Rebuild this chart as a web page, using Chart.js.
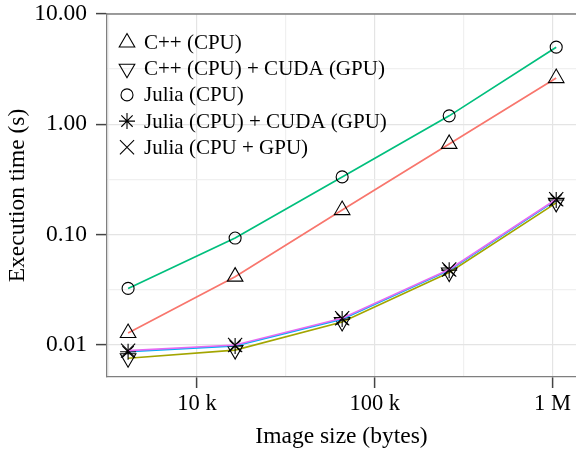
<!DOCTYPE html>
<html>
<head>
<meta charset="utf-8">
<script src="https://cdn.jsdelivr.net/npm/chart.js@4.4.1/dist/chart.umd.min.js"></script>
<style>
  html, body { margin: 0; padding: 0; background: #fff; overflow: hidden; }
  #wrap { width: 576px; height: 453px; position: relative; }
  canvas { display: block; }
</style>
</head>
<body>
<div id="wrap"><canvas id="timing"></canvas></div>
<script>
// image size in bytes (64x64 ... 1024x1024)
const imageSizes = [4096, 16384, 65536, 262144, 1048576];

// execution time in seconds
const cppCpu = [0.0127, 0.0413, 0.166, 0.662, 2.62];
const cppCuda = [0.0075, 0.0089, 0.0160, 0.045, 0.193];
const juliaCpu = [0.0323, 0.0925, 0.332, 1.19, 5.0];
const juliaCuda = [0.0086, 0.0097, 0.0170, 0.0473, 0.205];
const juliaGpu = [0.0088, 0.0099, 0.0173, 0.0480, 0.208];

const seriesNames = [
  "C++ (CPU)",
  "C++ (CPU) + CUDA (GPU)",
  "Julia (CPU)",
  "Julia (CPU) + CUDA (GPU)",
  "Julia (CPU + GPU)",
];

const yTicks = [0.01, 0.1, 1, 10];
const yTickLabels = ["0.01", "0.10", "1.00", "10.00"];
const xTicks = [1e4, 1e5, 1e6];
const xTickLabels = ["10 k", "100 k", "1 M"];

const FONT = "'Liberation Serif', 'Times New Roman', serif";

const colors = ["#F8766D", "#A3A500", "#00BF7D", "#00B0F6", "#E76BF3"];
const markers = [
  { style: "triangle", rotation: 0, radius: 9 },
  { style: "triangle", rotation: 180, radius: 9 },
  { style: "circle", rotation: 0, radius: 6 },
  { style: "star", rotation: 0, radius: 8 },
  { style: "crossRot", rotation: 0, radius: 10 },
];

const allSeries = [cppCpu, cppCuda, juliaCpu, juliaCuda, juliaGpu];

const datasets = allSeries.map((values, i) => ({
  label: seriesNames[i],
  data: values.map((v, j) => ({ x: imageSizes[j], y: v })),
  borderColor: colors[i],
  borderWidth: 1.7,
  pointStyle: markers[i].style,
  rotation: markers[i].rotation,
  pointRadius: markers[i].radius,
  pointBorderColor: "#000",
  pointBorderWidth: 1.1,
  pointBackgroundColor: "rgba(0,0,0,0)",
  tension: 0,
  order: allSeries.length - i,
}));

// half-decade minor grid lines
function withMinors(majors) {
  const out = [];
  majors.forEach((v) => {
    out.push({ value: v / Math.sqrt(10), minor: true });
    out.push({ value: v, minor: false });
  });
  out.push({ value: majors[majors.length - 1] * Math.sqrt(10), minor: true });
  return out;
}

function isMajor(list, v) {
  return list.some((t) => Math.abs(Math.log10(t) - Math.log10(v)) < 1e-6);
}

// top frame line and legend inside the plot
const framePlugin = {
  id: "frame",
  afterDraw(chart) {
    const { ctx, chartArea } = chart;
    ctx.save();
    ctx.strokeStyle = "#7f7f7f";
    ctx.lineWidth = 1.3;
    ctx.beginPath();
    ctx.moveTo(chartArea.left, chartArea.top);
    ctx.lineTo(chartArea.right, chartArea.top);
    ctx.stroke();

    ctx.font = "21px " + FONT;
    ctx.textBaseline = "middle";
    ctx.textAlign = "left";
    seriesNames.forEach((name, i) => {
      const y = chartArea.top + 28.5 + i * 26.2;
      const x = chartArea.left + 20;
      ctx.strokeStyle = "#000";
      ctx.fillStyle = "rgba(0,0,0,0)";
      ctx.lineWidth = 1.1;
      Chart.helpers.drawPoint(ctx, {
        pointStyle: markers[i].style,
        rotation: markers[i].rotation,
        radius: markers[i].radius,
        borderWidth: 1.1,
      }, x, y);
      ctx.fillStyle = "#000";
      ctx.fillText(name, chartArea.left + 37, y + 1);
    });
    ctx.restore();
  },
};

const ctx = document.getElementById("timing").getContext("2d");

new Chart(ctx, {
  type: "line",
  data: { datasets: datasets },
  plugins: [framePlugin],
  options: {
    responsive: true,
    maintainAspectRatio: false,
    animation: false,
    layout: {
      autoPadding: false,
      padding: { top: 14, right: 0, left: 0, bottom: 0 },
    },
    plugins: {
      legend: { display: false },
      tooltip: { enabled: false },
    },
    scales: {
      x: {
        type: "logarithmic",
        min: 3117,
        max: 1.355e6,
        afterBuildTicks: (scale) => {
          scale.ticks = withMinors(xTicks).filter(
            (t) => t.value >= scale.min && t.value <= scale.max
          );
        },
        afterFit: (scale) => {
          scale.height = 76;
          scale.paddingLeft = 0;
          scale.paddingRight = 0;
        },
        ticks: {
          autoSkip: false,
          maxRotation: 0,
          padding: 3,
          color: "#000",
          font: { family: FONT, size: 22.5 },
          callback: (v) => {
            const k = xTicks.findIndex((t) => isMajor([t], v));
            return k >= 0 ? xTickLabels[k] : "";
          },
        },
        grid: {
          color: (c) => (c.tick && !c.tick.minor ? "#e4e4e4" : "#f0f0f0"),
          lineWidth: 1.2,
          tickLength: 11,
          tickWidth: 1.5,
          tickColor: (c) => (c.tick && !c.tick.minor ? "#444" : "rgba(0,0,0,0)"),
        },
        border: { color: "#7f7f7f", width: 1.3 },
        title: {
          display: true,
          text: "Image size (bytes)",
          color: "#000",
          font: { family: FONT, size: 23.5 },
          padding: { top: 0, bottom: 2 },
        },
      },
      y: {
        type: "logarithmic",
        min: 0.00507,
        max: 10,
        afterBuildTicks: (scale) => {
          scale.ticks = withMinors(yTicks).filter(
            (t) => t.value >= scale.min && t.value <= scale.max * 1.0001
          );
        },
        afterFit: (scale) => {
          scale.width = 107;
          scale.paddingTop = 0;
          scale.paddingBottom = 0;
        },
        ticks: {
          autoSkip: false,
          padding: 9,
          color: "#000",
          font: { family: FONT, size: 23.5 },
          callback: (v) => {
            const k = yTicks.findIndex((t) => isMajor([t], v));
            return k >= 0 ? yTickLabels[k] : "";
          },
        },
        grid: {
          color: (c) => (c.tick && !c.tick.minor ? "#e4e4e4" : "#f0f0f0"),
          lineWidth: 1.2,
          tickLength: 11,
          tickWidth: 1.5,
          tickColor: (c) => (c.tick && !c.tick.minor ? "#444" : "rgba(0,0,0,0)"),
        },
        border: { color: "#7f7f7f", width: 1.3 },
        title: {
          display: true,
          text: "Execution time (s)",
          color: "#000",
          font: { family: FONT, size: 23.5 },
          padding: { top: 4, bottom: 0 },
        },
      },
    },
  },
});
</script>
</body>
</html>
